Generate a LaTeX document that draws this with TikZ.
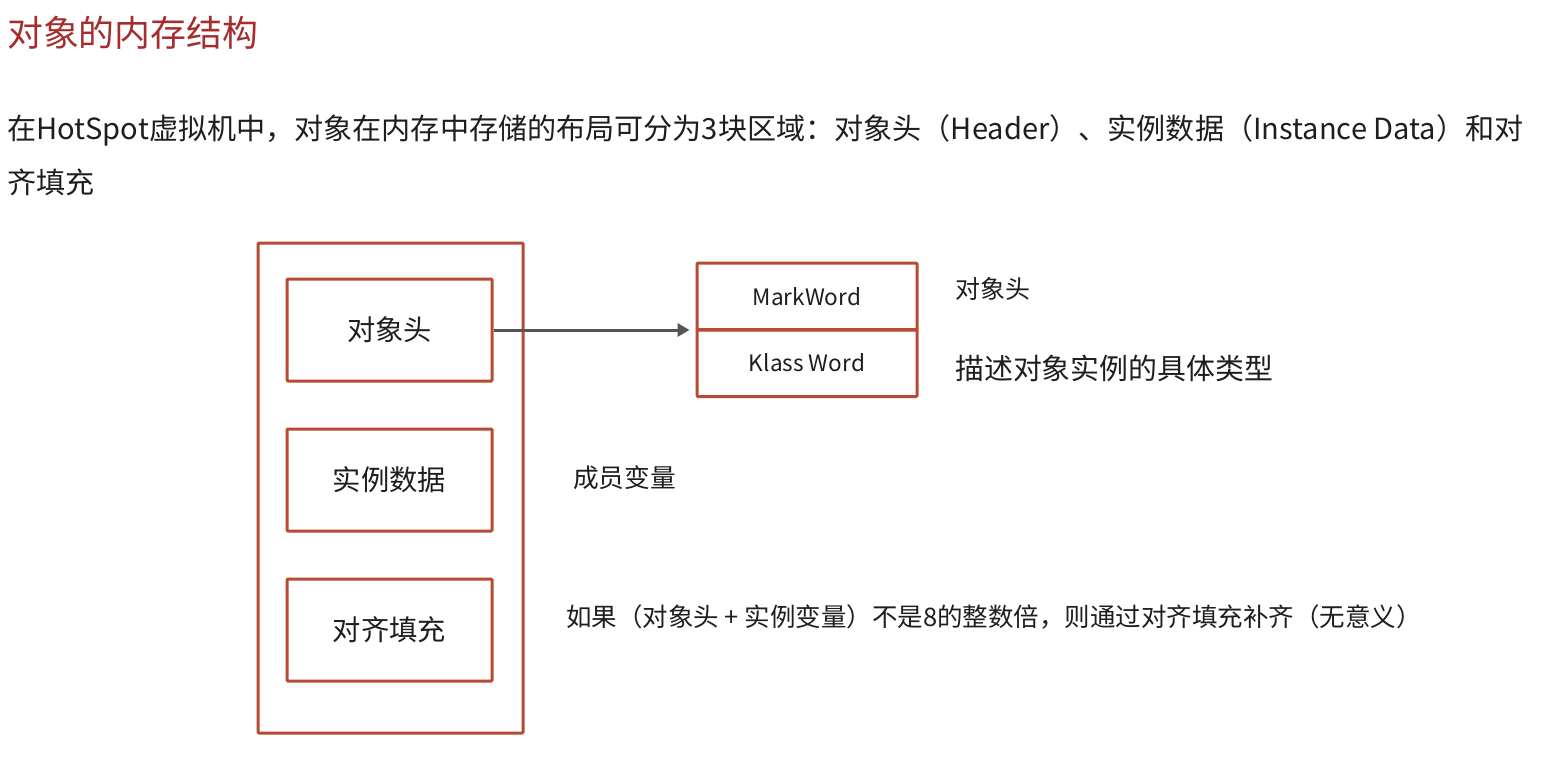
\documentclass[tikz,border=0pt]{standalone}
\usepackage{fontspec}
\setmainfont{Noto Sans CJK SC}
\usetikzlibrary{arrows.meta}
\definecolor{boxred}{RGB}{183,76,52}
\definecolor{titlered}{RGB}{165,45,45}
\definecolor{txt}{RGB}{30,30,30}
\definecolor{arrowgray}{RGB}{85,85,85}
\tikzset{
  box/.style={draw=boxred, line width=3pt, rounded corners=1pt},
  inbox/.style={box, minimum width=205pt, minimum height=102pt, inner sep=0pt, font=\fontsize{28.3}{32}\selectfont, text=txt},
  cell/.style={box, minimum width=220pt, minimum height=67pt, inner sep=0pt, font=\fontsize{22.6}{26}\selectfont, text=txt},
  lbl/.style={anchor=west, inner sep=0pt, text=txt},
}
\begin{document}
\begin{tikzpicture}[x=1pt,y=-1pt]
\useasboundingbox[fill=white] (0,0) rectangle (1547,763);
\node[lbl, text=titlered, font=\fontsize{35.9}{42}\selectfont] (title) at (7,33) {对象的内存结构};
\node[lbl, font=\fontsize{29.1}{34}\selectfont] (intro1) at (7,130) {在HotSpot虚拟机中，对象在内存中存储的布局可分为3块区域：对象头（Header）、实例数据（Instance Data）和对};
\node[lbl, font=\fontsize{29.1}{34}\selectfont] (intro2) at (7,182) {齐填充};
\node[box, minimum width=265pt, minimum height=490pt] (outer) at (390.5,488) {};
\node[inbox] (hdr) at (389.5,330) {对象头};
\node[inbox] (data) at (389.5,480) {实例数据};
\node[inbox] (pad) at (389.5,630) {对齐填充};
\node[cell] (mark) at (807,296.5) {MarkWord};
\node[cell] (klass) at (807,363) {Klass Word};
\draw[arrowgray, line width=3pt, shorten >=6pt, -{Triangle[length=12pt,width=13pt]}] (hdr.east) -- (hdr.east -| mark.west) coordinate (tip);
\node[lbl, font=\fontsize{25}{29}\selectfont] (hdrnote) at (955,289) {对象头};
\node[lbl, font=\fontsize{28.9}{34}\selectfont] (klassnote) at (955,368) {描述对象实例的具体类型};
\node[lbl, font=\fontsize{25.7}{30}\selectfont] (datanote) at (573,478) {成员变量};
\node[lbl, font=\fontsize{25.5}{30}\selectfont] (padnote) at (566,617) {如果（对象头 + 实例变量）不是8的整数倍，则通过对齐填充补齐（无意义）};
\end{tikzpicture}
\end{document}
